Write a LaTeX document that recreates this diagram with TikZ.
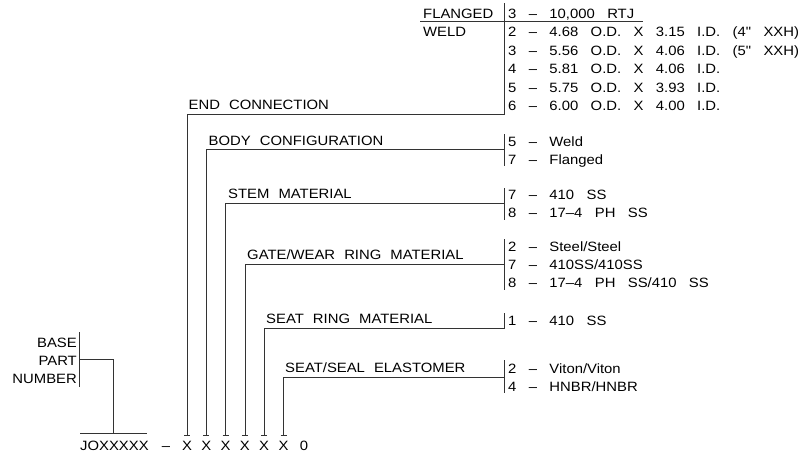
\documentclass[tikz,border=0pt]{standalone}
\usepackage{fontspec}
\setmainfont{Liberation Sans}[FakeStretch=1.1, WordSpace=2.2]
\newfontfamily\optfont{Liberation Sans}[FakeStretch=1.1, WordSpace=3]
\usetikzlibrary{positioning}

\begin{document}
\begin{tikzpicture}[x=1pt, y=-1pt,
  txt/.style={inner sep=0pt, anchor=base west, font=\fontsize{13.5}{18}\selectfont},
  opt/.style={txt, font=\optfont\fontsize{13.5}{18}\selectfont},
  lead/.style={line width=0.8pt, black!80},
  bar/.style={line width=0.8pt, black!80},
]
  \useasboundingbox (0,0) rectangle (809,458);

  % Part number string
  \node[txt] (pn) at (80,450) {JOXXXXX};
  \node[txt, anchor=base] (dash) at (166,450) {–};
  \foreach \i in {1,...,6}
    \node[txt, anchor=base] (x\i) at ({187+19.3*(\i-1)},450) {X};
  \node[txt, anchor=base] (zero) at (304,450) {0};
  \foreach \i in {1,...,6}
    \draw[lead] ([xshift=-3pt,yshift=5.5pt]x\i.north) -- ([xshift=3pt,yshift=5.5pt]x\i.north);

  % Base part number
  \node[txt, anchor=base east] (base) at (77,347) {BASE};
  \node[txt, anchor=base east] (part) at (77,365) {PART};
  \node[txt, anchor=base east] (number) at (77,383) {NUMBER};
  \draw[bar] (79,332) -- (79,387);
  \coordinate (pnTop) at (113,433);
  \draw[lead] (79,359) -| (pnTop);
  \draw[lead] (80,433) -- (147,433);

  % End connection
  \node[txt] (flanged) at (423,18) {FLANGED};
  \node[txt] (weld) at (423,36.8) {WELD};
  \draw[lead] (420,21.5) -- (643,21.5);
  \node[opt] (end1) at (508,18)    {3 – 10,000 RTJ};
  \node[opt] (end2) at (508,36.5)  {2 – 4.68 O.D. X 3.15 I.D. (4" XXH)};
  \node[opt] (end3) at (508,55)    {3 – 5.56 O.D. X 4.06 I.D. (5" XXH)};
  \node[opt] (end4) at (508,73.5)  {4 – 5.81 O.D. X 4.06 I.D.};
  \node[opt] (end5) at (508,92)    {5 – 5.75 O.D. X 3.93 I.D.};
  \node[opt] (end6) at (508,110.5) {6 – 6.00 O.D. X 4.00 I.D.};
  \draw[bar] (504.5,3) -- (504.5,114);
  \coordinate (b1) at (504.5,114);
  \node[txt] (endconn) at (188.5,109.5) {END CONNECTION};
  \draw[lead] ([yshift=5.5pt]x1.north) |- (b1);

  % Body configuration
  \node[opt] (body1) at (508,146) {5 – Weld};
  \node[opt] (body2) at (508,164) {7 – Flanged};
  \draw[bar] (504.5,134) -- (504.5,166);
  \coordinate (b2) at (504.5,149.5);
  \node[txt] (bodycfg) at (208.5,145) {BODY CONFIGURATION};
  \draw[lead] ([yshift=5.5pt]x2.north) |- (b2);

  % Stem material
  \node[opt] (stem1) at (508,199.5) {7 – 410 SS};
  \node[opt] (stem2) at (508,217.5) {8 – 17–4 PH SS};
  \draw[bar] (504.5,188) -- (504.5,220);
  \coordinate (b3) at (504.5,203);
  \node[txt] (stemmat) at (228,198.5) {STEM MATERIAL};
  \draw[lead] ([yshift=5.5pt]x3.north) |- (b3);

  % Gate/wear ring material
  \node[opt] (gate1) at (508,251) {2 – Steel/Steel};
  \node[opt] (gate2) at (508,269) {7 – 410SS/410SS};
  \node[opt] (gate3) at (508,287) {8 – 17–4 PH SS/410 SS};
  \draw[bar] (504.5,239) -- (504.5,290);
  \coordinate (b4) at (504.5,264);
  \node[txt] (gatemat) at (247,259.5) {GATE/WEAR RING MATERIAL};
  \draw[lead] ([yshift=5.5pt]x4.north) |- (b4);

  % Seat ring material
  \node[opt] (seat1) at (508,325.5) {1 – 410 SS};
  \draw[bar] (504.5,313) -- (504.5,328);
  \coordinate (b5) at (504.5,328);
  \node[txt] (seatmat) at (266,323.5) {SEAT RING MATERIAL};
  \draw[lead] ([yshift=5.5pt]x5.north) |- (b5);

  % Seat/seal elastomer
  \node[opt] (elast1) at (508,373) {2 – Viton/Viton};
  \node[opt] (elast2) at (508,391) {4 – HNBR/HNBR};
  \draw[bar] (504.5,360) -- (504.5,393);
  \coordinate (b6) at (504.5,377);
  \node[txt] (elastomer) at (285,372.5) {SEAT/SEAL ELASTOMER};
  \draw[lead] ([yshift=5.5pt]x6.north) |- (b6);
\end{tikzpicture}
\end{document}
